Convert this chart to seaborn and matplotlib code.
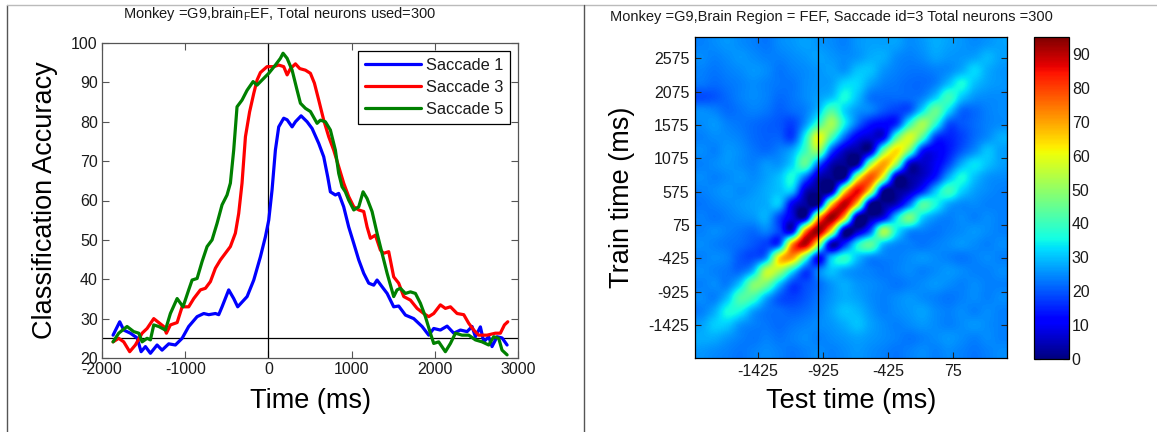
import numpy as np
import pandas as pd
import matplotlib
matplotlib.use("Agg")
import matplotlib.pyplot as plt
import seaborn as sns
from matplotlib.lines import Line2D

# ---------------- data ----------------
saccade1_t = [-1867, -1787, -1739, -1659, -1578, -1530, -1478, -1418, -1338, -1278, -1198, -1118, -1037, -958,
              -857, -777, -717, -637, -597, -557, -477, -417, -369, -256, -176, -96, -36, 4, 44, 84, 124, 184,
              225, 285, 325, 393, 465, 525, 605, 665, 713, 745, 805, 845, 905, 965, 1026, 1086, 1146, 1206, 1266,
              1306, 1366, 1427, 1506, 1566, 1647, 1747, 1847, 1927, 1987, 2067, 2148, 2228, 2308, 2388, 2448,
              2488, 2548, 2588, 2648, 2688, 2748, 2808, 2869]
saccade1_acc = [25.8, 29.2, 27.1, 26.3, 25.1, 21.6, 22.9, 21.2, 23.3, 22.0, 23.6, 23.3, 25.0, 28.0, 30.5, 31.3,
                31.0, 31.3, 31.0, 33.0, 37.3, 35.1, 33.0, 35.6, 39.8, 45.7, 50.8, 55.0, 62.7, 72.8, 78.7, 80.9,
                80.5, 78.7, 80.0, 81.5, 80.0, 78.3, 74.5, 71.1, 66.0, 62.2, 61.4, 61.8, 58.4, 53.3, 49.1, 44.9,
                41.5, 39.0, 38.5, 39.8, 38.1, 36.4, 33.0, 33.2, 30.9, 30.0, 28.0, 25.8, 27.5, 27.1, 28.1, 26.3,
                27.1, 26.7, 28.0, 25.4, 27.9, 24.1, 25.4, 22.9, 25.4, 25.1, 23.3]

saccade3_t = [-1867, -1799, -1739, -1667, -1599, -1518, -1458, -1378, -1318, -1258, -1226, -1178, -1097, -1037,
              -958, -897, -817, -757, -697, -637, -577, -517, -457, -397, -357, -317, -276, -226, -176, -136, -96,
              -16, 64, 124, 184, 225, 265, 325, 377, 445, 505, 553, 605, 665, 725, 785, 845, 905, 965, 1026,
              1086, 1146, 1186, 1226, 1286, 1346, 1386, 1446, 1506, 1566, 1627, 1707, 1787, 1867, 1927, 1987,
              2067, 2127, 2188, 2268, 2348, 2408, 2468, 2528, 2628, 2728, 2788, 2837, 2877]
saccade3_acc = [24.1, 25.0, 24.1, 21.6, 23.3, 26.3, 27.5, 30.0, 29.0, 28.0, 26.3, 28.4, 29.0, 33.0, 33.0, 35.1,
                37.3, 37.7, 39.4, 42.8, 44.9, 46.6, 48.3, 51.7, 56.7, 64.4, 76.2, 82.5, 87.2, 90.6, 92.5, 94.0,
                94.0, 94.4, 94.0, 91.9, 93.5, 94.7, 93.5, 93.1, 92.3, 89.8, 85.5, 80.4, 76.2, 72.8, 68.6, 64.4,
                61.0, 58.4, 57.6, 57.2, 53.3, 50.4, 51.2, 47.4, 46.6, 47.0, 40.6, 39.0, 35.6, 34.7, 32.6, 31.3,
                30.5, 31.3, 33.5, 32.6, 33.0, 31.3, 31.0, 28.8, 27.1, 25.8, 25.8, 26.3, 26.3, 28.4, 29.2]

saccade5_t = [-1867, -1799, -1699, -1619, -1558, -1518, -1458, -1418, -1378, -1318, -1238, -1178, -1097, -1026,
              -958, -917, -857, -797, -737, -677, -617, -557, -497, -457, -417, -377, -317, -256, -184, -136,
              -76, 4, 84, 144, 176, 225, 285, 345, 385, 445, 505, 585, 625, 685, 745, 805, 845, 885, 925, 965,
              1026, 1086, 1138, 1186, 1246, 1306, 1366, 1427, 1506, 1546, 1586, 1647, 1707, 1767, 1827, 1887,
              1947, 1987, 2047, 2127, 2188, 2248, 2328, 2408, 2488, 2568, 2648, 2708, 2768, 2808, 2869]
saccade5_acc = [24.1, 26.3, 28.0, 26.7, 26.3, 24.1, 25.0, 24.6, 28.4, 28.0, 27.1, 31.3, 35.1, 33.0, 37.3, 39.8,
                40.2, 44.5, 48.3, 50.0, 54.2, 58.9, 61.4, 64.4, 72.8, 83.8, 85.5, 88.0, 90.2, 89.3, 90.6, 92.3,
                94.4, 96.1, 97.4, 96.1, 93.1, 88.0, 84.7, 83.4, 82.6, 79.6, 80.4, 80.0, 77.9, 72.8, 66.9, 63.5,
                62.2, 60.1, 57.6, 58.4, 62.2, 60.5, 57.2, 51.7, 46.6, 41.5, 35.6, 37.3, 37.7, 36.4, 36.8, 36.4,
                33.9, 30.5, 26.3, 23.7, 24.1, 21.6, 23.7, 26.3, 25.8, 25.8, 24.6, 24.1, 23.3, 25.4, 25.0, 22.0,
                20.8]

series_names = ["Saccade 1", "Saccade 3", "Saccade 5"]
series_colors = ["#0000ff", "#ff0000", "#008000"]

acc_xticks = [-2000, -1000, 0, 1000, 2000, 3000]
acc_yticks = [20, 30, 40, 50, 60, 70, 80, 90, 100]
chance_level = 25
event_time = 0

# temporal generalisation matrix (rows: train time, top = late; cols: test time)
heat_rows = [
    [24, 25, 26, 25, 24, 23, 25, 26, 27, 26, 25, 24, 26, 27, 27, 27, 25, 26, 28, 27, 26, 25, 26, 27],
    [25, 24, 25, 26, 25, 24, 24, 25, 26, 27, 26, 25, 26, 28, 28, 25, 24, 25, 27, 26, 26, 27, 29, 27],
    [24, 23, 24, 25, 26, 25, 23, 24, 25, 26, 27, 26, 30, 30, 26, 24, 23, 23, 24, 25, 28, 32, 28, 26],
    [23, 22, 23, 24, 25, 24, 23, 23, 25, 26, 27, 32, 32, 27, 24, 23, 22, 22, 24, 30, 36, 30, 27, 26],
    [19, 20, 22, 24, 25, 24, 22, 23, 25, 27, 30, 36, 30, 23, 22, 22, 22, 24, 31, 40, 31, 26, 25, 25],
    [25, 24, 22, 23, 24, 23, 21, 22, 24, 30, 42, 32, 26, 24, 20, 18, 20, 33, 45, 33, 22, 22, 24, 25],
    [25, 26, 24, 23, 22, 21, 20, 18, 26, 40, 52, 35, 22, 14, 12, 16, 38, 52, 38, 20, 20, 22, 24, 25],
    [24, 25, 25, 24, 22, 21, 21, 18, 36, 60, 42, 22, 10, 7, 10, 42, 58, 42, 18, 15, 18, 22, 25, 28],
    [25, 24, 26, 25, 23, 22, 24, 28, 40, 50, 20, 6, 3, 5, 46, 64, 46, 14, 10, 14, 20, 25, 30, 27],
    [24, 25, 26, 25, 24, 26, 26, 32, 44, 22, 5, 2, 3, 50, 70, 50, 8, 6, 10, 18, 28, 33, 30, 27],
    [25, 24, 25, 26, 25, 27, 30, 36, 22, 5, 2, 2, 55, 78, 55, 4, 3, 6, 14, 28, 36, 30, 26, 25],
    [24, 25, 26, 25, 26, 28, 30, 30, 6, 2, 2, 60, 86, 60, 3, 2, 5, 15, 30, 40, 32, 27, 25, 24],
    [23, 24, 25, 26, 27, 28, 30, 10, 3, 3, 63, 90, 63, 2, 2, 6, 22, 42, 36, 28, 25, 25, 24, 24],
    [24, 23, 24, 25, 26, 28, 18, 8, 5, 66, 93, 66, 2, 3, 10, 32, 47, 32, 26, 24, 25, 24, 25, 24],
    [24, 25, 24, 23, 22, 24, 18, 10, 72, 93, 62, 3, 5, 20, 52, 35, 26, 24, 23, 24, 25, 26, 25, 24],
    [25, 24, 23, 22, 20, 18, 20, 72, 90, 55, 5, 15, 35, 44, 30, 25, 24, 23, 24, 25, 26, 25, 24, 25],
    [24, 25, 24, 20, 19, 26, 64, 70, 42, 12, 30, 38, 30, 25, 24, 24, 25, 26, 25, 24, 23, 24, 25, 24],
    [25, 24, 23, 22, 30, 55, 52, 34, 18, 24, 30, 27, 25, 24, 23, 24, 25, 24, 25, 26, 25, 24, 24, 25],
    [24, 25, 24, 32, 48, 46, 30, 18, 19, 22, 26, 28, 26, 25, 24, 23, 24, 25, 26, 25, 24, 25, 24, 24],
    [25, 24, 30, 42, 40, 28, 20, 18, 20, 23, 26, 28, 27, 25, 24, 25, 26, 25, 24, 23, 24, 25, 24, 25],
    [24, 28, 36, 35, 27, 23, 22, 21, 22, 24, 27, 30, 29, 26, 24, 25, 26, 27, 25, 24, 25, 24, 25, 24],
    [27, 31, 31, 26, 24, 23, 22, 23, 24, 25, 26, 28, 30, 27, 25, 24, 25, 26, 25, 24, 25, 26, 25, 24],
    [28, 28, 26, 24, 23, 24, 23, 24, 25, 24, 25, 26, 27, 26, 25, 24, 23, 24, 25, 26, 25, 24, 25, 24],
    [26, 25, 24, 23, 24, 25, 24, 23, 24, 25, 24, 25, 26, 25, 24, 23, 24, 25, 24, 25, 24, 23, 24, 25],
]
test_time_range = [-1910, 490]
train_time_range = [-1920, 2895]
heat_xticks = [-1425, -925, -425, 75]
heat_yticks = [-1425, -925, -425, 75, 575, 1075, 1575, 2075, 2575]
heat_event_time = -965
cbar_ticks = [0, 10, 20, 30, 40, 50, 60, 70, 80, 90]
cbar_max = 95

# ---------------- style ----------------
sns.set_theme(style="white")
plt.rcParams["font.family"] = ["Liberation Sans", "DejaVu Sans"]
plt.rcParams["mathtext.fontset"] = "custom"
plt.rcParams["mathtext.rm"] = "Liberation Sans"
plt.rcParams["mathtext.it"] = "Liberation Sans"
plt.rcParams["axes.unicode_minus"] = False

TXT = "#1a1a1a"
W, H = 1157, 432
fig = plt.figure(figsize=(W / 100, H / 100), dpi=100)
fig.patch.set_facecolor("white")


def box(l, t, r, b):
    return [l / W, 1 - b / H, (r - l) / W, (b - t) / H]


ax1 = fig.add_axes(box(102, 43, 518, 358))
ax2 = fig.add_axes(box(695, 37, 1007, 358))
cax = fig.add_axes(box(1034, 37, 1069, 359))

# ---------------- left: classification accuracy ----------------
frames = []
for name, t, a in zip(series_names, [saccade1_t, saccade3_t, saccade5_t],
                      [saccade1_acc, saccade3_acc, saccade5_acc]):
    frames.append(pd.DataFrame({"Time (ms)": t, "Classification Accuracy": a, "Series": name}))
df = pd.concat(frames, ignore_index=True)

sns.lineplot(data=df, x="Time (ms)", y="Classification Accuracy", hue="Series",
             palette=dict(zip(series_names, series_colors)), estimator=None, sort=False,
             linewidth=2.3, ax=ax1, zorder=3)
ax1.axhline(chance_level, color="black", lw=0.9, zorder=2)
ax1.axvline(event_time, color="black", lw=0.9, zorder=2)
ax1.set_xlim(-2000, 3000)
ax1.set_ylim(20, 100)
ax1.set_xticks(acc_xticks)
ax1.set_yticks(acc_yticks)
ax1.tick_params(direction="in", bottom=True, left=True, top=True, right=True, length=5, width=0.8,
                labelsize=11.5, colors="#555555", labelcolor=TXT, pad=3)
for s in ax1.spines.values():
    s.set_color("#555555")
    s.set_linewidth(0.9)
    s.set_visible(True)
ax1.set_xlabel("Time (ms)", fontsize=19.5, color="black", va="center")
ax1.xaxis.set_label_coords(0.5, (358 - 401) / 315)
ax1.set_ylabel("Classification Accuracy", fontsize=19.5, color="black", va="center")
ax1.yaxis.set_label_coords((45 - 102) / 416, 0.5)

handles, labels = ax1.get_legend_handles_labels()
leg = ax1.legend(handles, labels, loc="upper right", fontsize=11.8, frameon=True, fancybox=False,
                 edgecolor="black", framealpha=1, handlelength=3.4, handletextpad=0.3,
                 labelspacing=0.42, borderpad=0.42, borderaxespad=0.5)
leg.get_frame().set_linewidth(0.9)
for txt in leg.get_texts():
    txt.set_color(TXT)
for ln in leg.get_lines():
    ln.set_linewidth(2.3)

fig.text(280 / W, 1 - 14 / H, r"Monkey =G9,brain$_{\mathrm{F}}$EF, Total neurons used=300",
         ha="center", va="center", fontsize=10.5, color=TXT)

# ---------------- right: temporal generalisation ----------------
grid = np.array(heat_rows, dtype=float)
im = ax2.imshow(grid, cmap="jet", vmin=0, vmax=cbar_max, aspect="auto", origin="upper",
                extent=[test_time_range[0], test_time_range[1], train_time_range[0], train_time_range[1]],
                interpolation="catrom", interpolation_stage="data")
ax2.axvline(heat_event_time, color="black", lw=0.9)
ax2.set_xlim(test_time_range)
ax2.set_ylim(train_time_range)
ax2.set_xticks(heat_xticks)
ax2.set_yticks(heat_yticks)
ax2.tick_params(direction="in", bottom=True, left=True, top=True, right=True, length=4, width=0.8,
                labelsize=11.5, colors="#222222", labelcolor=TXT, pad=4)
for s in ax2.spines.values():
    s.set_color("black")
    s.set_linewidth(0.9)
    s.set_visible(True)
ax2.set_xlabel("Test time (ms)", fontsize=19.5, color="black", va="center")
ax2.xaxis.set_label_coords(0.5, (358 - 401) / 321)
ax2.set_ylabel("Train time (ms)", fontsize=19.5, color="black", va="center")
ax2.yaxis.set_label_coords((622 - 695) / 312, 0.5)
ax2.grid(False)

cb = fig.colorbar(im, cax=cax, ticks=cbar_ticks)
cax.tick_params(direction="in", left=True, right=True, length=4, width=0.8, labelsize=11.5,
                colors="#222222", labelcolor=TXT, pad=2)
cb.outline.set_edgecolor("black")
cb.outline.set_linewidth(0.9)

fig.text(831 / W, 1 - 17 / H, "Monkey =G9,Brain Region = FEF, Saccade id=3 Total neurons =300",
         ha="center", va="center", fontsize=10.5, color=TXT)

# ---------------- panel frame lines ----------------
fig.add_artist(Line2D([7 / W, 7 / W], [0, 1 - 5 / H], transform=fig.transFigure, color="#555555", lw=1))
fig.add_artist(Line2D([7 / W, 1], [1 - 5 / H, 1 - 5 / H], transform=fig.transFigure, color="#bbbbbb", lw=1))
fig.add_artist(Line2D([584 / W, 584 / W], [0, 1 - 5 / H], transform=fig.transFigure, color="#555555", lw=1))

fig.savefig("out.png", dpi=100, facecolor="white")
